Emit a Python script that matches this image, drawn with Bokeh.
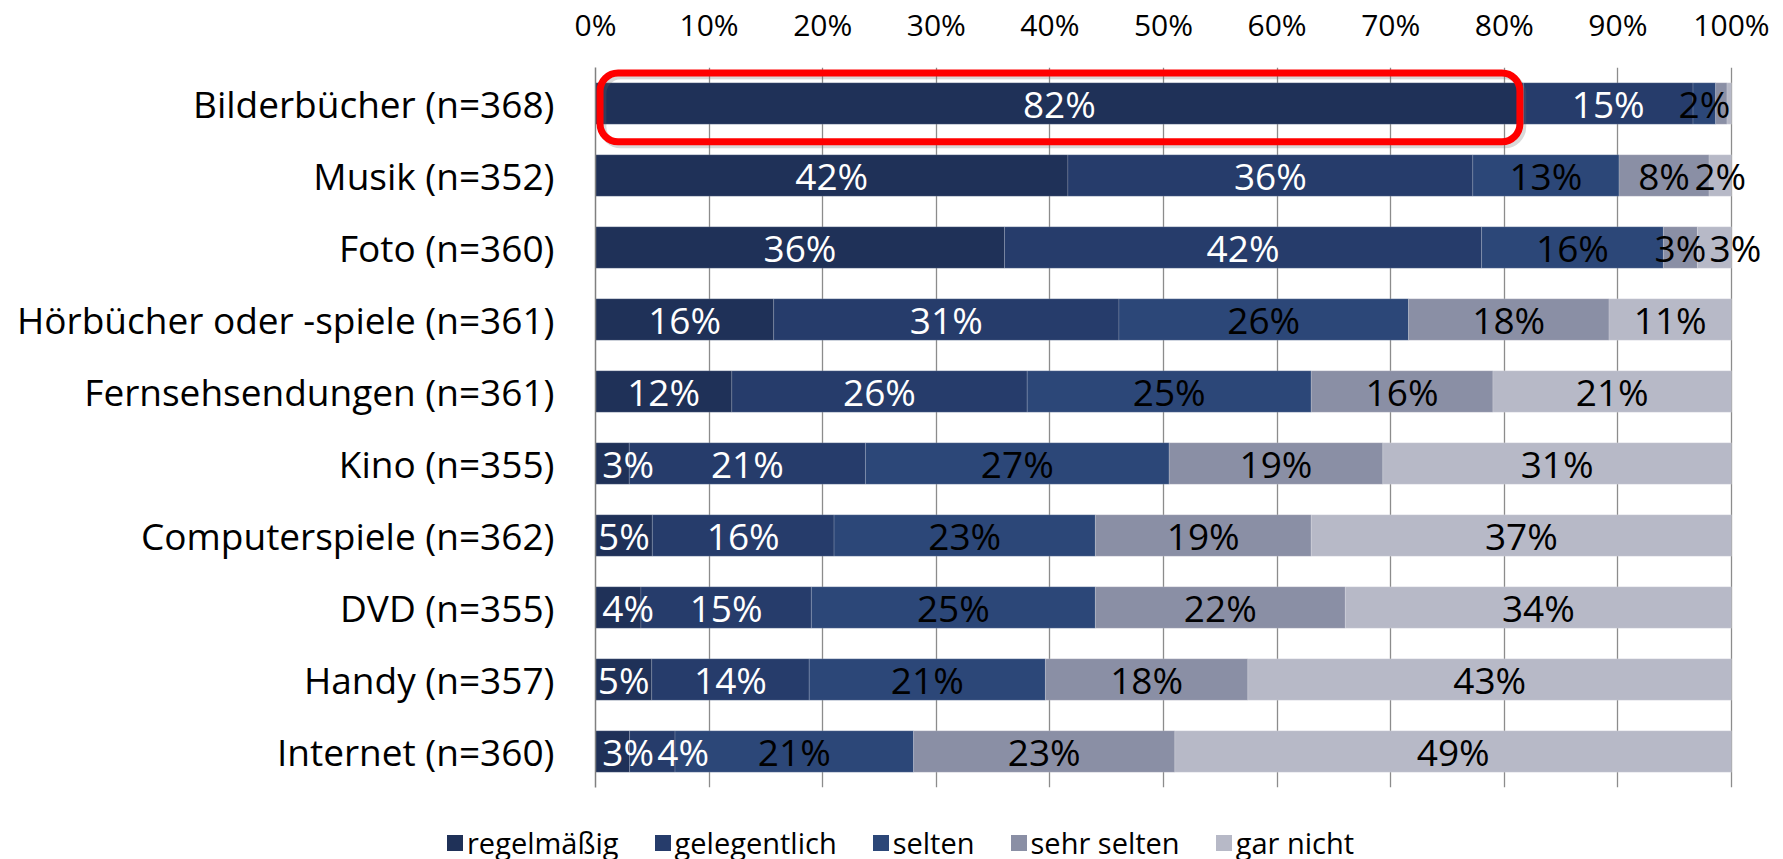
from bokeh.plotting import figure
from bokeh.layouts import column
from bokeh.models import Range1d, FixedTicker, ColumnDataSource, BoxAnnotation, Div
from bokeh.core.properties import value
from bokeh.embed import file_html
from bokeh.resources import INLINE

# ---------------- data ----------------
categories = ["Bilderbücher (n=368)", "Musik (n=352)", "Foto (n=360)",
              "Hörbücher oder -spiele (n=361)", "Fernsehsendungen (n=361)",
              "Kino (n=355)", "Computerspiele (n=362)", "DVD (n=355)",
              "Handy (n=357)", "Internet (n=360)"]
series_names = ["regelmäßig", "gelegentlich", "selten", "sehr selten", "gar nicht"]
regelmaessig = [82, 42, 36, 16, 12, 3, 5, 4, 5, 3]
gelegentlich = [15, 36, 42, 31, 26, 21, 16, 15, 14, 4]
selten       = [2, 13, 16, 26, 25, 27, 23, 25, 21, 21]
sehr_selten  = [1, 8, 3, 18, 16, 19, 19, 22, 18, 23]
gar_nicht    = [0.4, 2, 3, 11, 21, 31, 37, 34, 43, 49]
x_ticks = [0, 10, 20, 30, 40, 50, 60, 70, 80, 90, 100]
x_tick_labels = ["0%", "10%", "20%", "30%", "40%", "50%", "60%", "70%", "80%", "90%", "100%"]

# ---------------- style ----------------
colors = ["#1F3158", "#263C6B", "#2C4778", "#8A8FA5", "#B7B9C7"]
label_colors = ["white", "white", "black", "black", "black"]
FONT = "Open Sans"
W = 1783
H_MAIN, H_LEG = 800, 59
ML, MT = 595, 65
FRAME_100 = 1731        # pixel x of the 100 % line
FRAME_RIGHT = 1762      # frame extends a bit further so labels may overflow
MR = W - FRAME_RIGHT
MB = H_MAIN - 787
px_per = (FRAME_100 - ML) / 100.0
x_end = 100 + (FRAME_RIGHT - FRAME_100) / px_per
bar_fs = 37

all_series = [regelmaessig, gelegentlich, selten, sehr_selten, gar_nicht]
n = len(categories)
ypos = [n - 1 - i for i in range(n)]  # first category at top

p = figure(width=W, height=H_MAIN, output_backend="svg", toolbar_location=None,
           x_range=Range1d(0, x_end), y_range=Range1d(-0.5, n - 0.5),
           x_axis_location="above", min_border_left=ML, min_border_right=MR,
           min_border_top=MT, min_border_bottom=MB)
p.outline_line_color = None
p.background_fill_color = "white"
p.border_fill_color = "white"

# stacked, normalised to 100 %
totals = [sum(s[i] for s in all_series) for i in range(n)]
lefts = [0.0] * n
lab_x, lab_y, lab_t, lab_c = [], [], [], []
prev_right = [None] * n
char_w = {"%": 0.823}
def text_w(t):
    return sum(char_w.get(ch, 0.572) for ch in t) * bar_fs / px_per

for k, s in enumerate(all_series):
    frac = [s[i] / totals[i] * 100.0 for i in range(n)]
    rights = [lefts[i] + frac[i] for i in range(n)]
    src = ColumnDataSource(dict(y=ypos, left=list(lefts), right=rights))
    p.hbar(y="y", left="left", right="right", height=0.575, source=src,
           fill_color=colors[k], line_color="white", line_alpha=0.15, line_width=1)
    for i in range(n):
        if s[i] >= 1.5:
            t = f"{round(s[i])}%"
            w = text_w(t)
            c = (lefts[i] + rights[i]) / 2.0
            le = c - w / 2.0
            if le < 0:
                le = 0.6
            if prev_right[i] is not None and le < prev_right[i] + 0.3:
                le = prev_right[i] + 0.3
            c = le + w / 2.0
            prev_right[i] = le + w
            lab_x.append(c); lab_y.append(ypos[i]); lab_t.append(t); lab_c.append(label_colors[k])
    lefts = rights

p.text(x="x", y="y", text="text", text_color="color",
       source=ColumnDataSource(dict(x=lab_x, y=lab_y, text=lab_t, color=lab_c)),
       text_align="center", text_baseline="middle",
       text_font=value(FONT), text_font_size=value(f"{bar_fs}px"))

# highlight box around the first bar's first segment
first_val = regelmaessig[0] / totals[0] * 100.0
shadow = BoxAnnotation(left=0.4 + 0.25, right=first_val - 0.3 + 0.25,
                       bottom=ypos[0] - 0.532 - 0.04, top=ypos[0] + 0.424 - 0.04,
                       fill_alpha=0, line_color="#666666", line_alpha=0.25, line_width=7,
                       border_radius=18)
box = BoxAnnotation(left=0.4, right=first_val - 0.3,
                    bottom=ypos[0] - 0.532, top=ypos[0] + 0.424,
                    fill_alpha=0, line_color="#FF0000", line_alpha=1.0, line_width=7,
                    border_radius=18)
p.add_layout(shadow)
p.add_layout(box)

# axes
xa = p.xaxis[0]
xa.ticker = FixedTicker(ticks=x_ticks)
xa.major_label_overrides = {t: l for t, l in zip(x_ticks, x_tick_labels)}
xa.axis_line_color = None
xa.major_tick_line_color = None
xa.minor_tick_line_color = None
xa.major_tick_out = 0
xa.major_tick_in = 0
xa.major_label_standoff = 23
xa.major_label_text_font = FONT
xa.major_label_text_font_size = "30px"
xa.major_label_text_color = "black"

ya = p.yaxis[0]
ya.ticker = FixedTicker(ticks=ypos)
ya.major_label_overrides = {y: c for y, c in zip(ypos, categories)}
ya.axis_line_color = "#808080"
ya.axis_line_width = 1.5
ya.major_tick_line_color = None
ya.minor_tick_line_color = None
ya.major_tick_out = 0
ya.major_tick_in = 0
ya.major_label_standoff = 41
ya.major_label_text_font = FONT
ya.major_label_text_font_size = "37px"
ya.major_label_text_color = "black"

p.xgrid.ticker = FixedTicker(ticks=x_ticks)
p.xgrid.grid_line_color = "#8C8C8C"
p.xgrid.grid_line_width = 1.3
p.ygrid.grid_line_color = None

# ---------------- legend strip (HTML, below the chart) ----------------
items_html = "".join(
    f'<span style="display:flex;align-items:center;gap:4px;">'
    f'<span style="display:inline-block;width:16px;height:16px;background:{c};"></span>'
    f'<span>{nm}</span></span>'
    for nm, c in zip(series_names, colors))
legend_html = (f'<div style="display:flex;align-items:center;gap:36px;box-sizing:border-box;'
               f'padding-left:447px;padding-top:26px;height:{H_LEG}px;width:{W}px;'
               f'font-family:\'{FONT}\';font-size:29px;line-height:35px;color:black;'
               f'white-space:nowrap;">{items_html}</div>')
leg = Div(text=legend_html, width=W, height=H_LEG, margin=0)

layout = column(p, leg, spacing=0)
open("out.html", "w").write(file_html(layout, INLINE))
